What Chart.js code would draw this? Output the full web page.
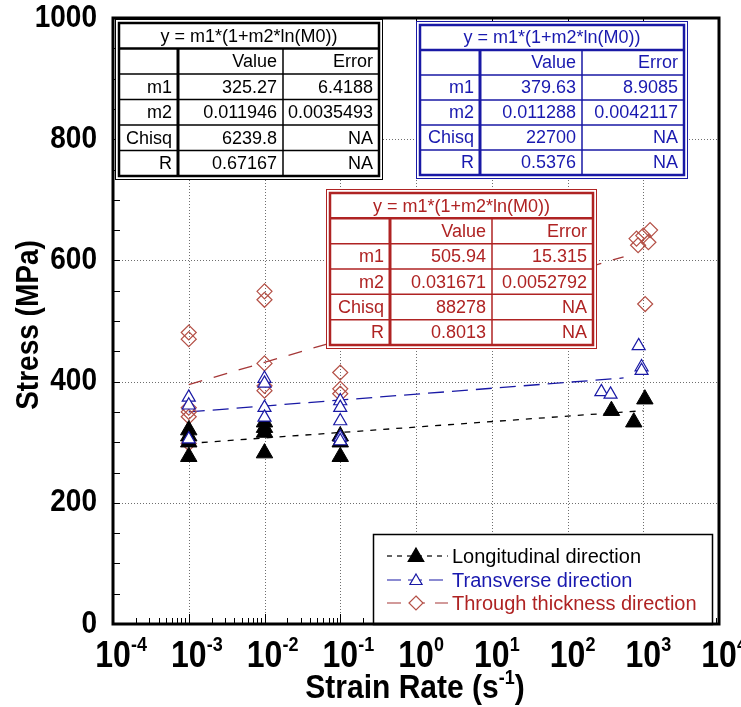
<!DOCTYPE html>
<html>
<head>
<meta charset="utf-8">
<script src="https://cdn.jsdelivr.net/npm/chart.js@4.4.1/dist/chart.umd.min.js"></script>
<style>
  body { margin: 0; background: #fff; }
  #wrap { width: 741px; height: 707px; }
</style>
</head>
<body>
<div id="wrap"><canvas id="chart" width="741" height="707"></canvas></div>
<script>
/* data: strain rate (1/s) vs stress (MPa) */
const rateLong   = [0.001, 0.001, 0.001, 0.001, 0.01, 0.01, 0.01, 0.01, 0.1, 0.1, 0.1, 380, 750, 1050];
const stressLong = [320, 310, 300, 276, 333, 324, 316, 282, 310, 300, 276, 352, 333, 371];

const rateTrans   = [0.001, 0.001, 0.001, 0.01, 0.01, 0.01, 0.01, 0.1, 0.1, 0.1, 0.1, 0.1, 280, 370, 870, 950, 950];
const stressTrans = [374, 361, 305, 405, 397, 357, 341, 368, 357, 335, 308, 302, 383, 379, 459, 424, 418];

const rateThick   = [0.001, 0.001, 0.001, 0.001, 0.001, 0.001, 0.01, 0.01, 0.01, 0.01, 0.01, 0.1, 0.1, 0.1, 815, 855, 1000, 1170, 1230, 1060];
const stressThick = [481, 470, 357, 350, 342, 298, 549, 535, 430, 393, 385, 415, 388, 380, 636, 625, 641, 630, 650, 528];

// fitted lines (end points)
const fitLongX  = [0.001, 1000];
const fitLongY  = [298, 352];
const fitTransX = [0.001, 550];
const fitTransY = [350, 406];
const fitThickX = [0.001, 550];
const fitThickY = [395, 606];

// fit tables
const fitTitle = 'y = m1*(1+m2*ln(M0))';
const fitParams = ['m1', 'm2', 'Chisq', 'R'];
const longValues  = ['325.27', '0.011946', '6239.8', '0.67167'];
const longErrors  = ['6.4188', '0.0035493', 'NA', 'NA'];
const transValues = ['379.63', '0.011288', '22700', '0.5376'];
const transErrors = ['8.9085', '0.0042117', 'NA', 'NA'];
const thickValues = ['505.94', '0.031671', '88278', '0.8013'];
const thickErrors = ['15.315', '0.0052792', 'NA', 'NA'];

const xExponents = [-4, -3, -2, -1, 0, 1, 2, 3, 4];
const yTicks = [0, 200, 400, 600, 800, 1000];
const seriesNames = ['Longitudinal direction', 'Transverse direction', 'Through thickness direction'];

const FONT = "'Liberation Sans', Arial, sans-serif";
const BLUE = 'rgb(25,25,165)';
const BLUE_TXT = 'rgb(25,25,175)';
const RED = 'rgb(175,35,35)';
const RED_PT = 'rgb(180,80,70)';
const RED_LINE = 'rgb(165,55,55)';

function pts(xs, ys) {
  return xs.map((x, i) => ({ x: x, y: ys[i] }));
}

function stretchText(ctx, text, x, y, font, align, sy) {
  ctx.save();
  ctx.translate(x, y);
  ctx.scale(1, sy);
  ctx.font = font;
  ctx.textAlign = align;
  ctx.textBaseline = 'middle';
  ctx.fillText(text, 0, 0);
  ctx.restore();
}

function drawTable(ctx, b, color, txtColor, values, errors) {
  ctx.save();
  ctx.fillStyle = '#fff';
  ctx.fillRect(b.x0, b.y0, b.x1 - b.x0, b.y1 - b.y0);
  ctx.strokeStyle = color;
  ctx.lineWidth = 1;
  ctx.strokeRect(b.x0 + 0.5, b.y0 + 0.5, b.x1 - b.x0 - 1, b.y1 - b.y0 - 1);
  const ix0 = b.x0 + 4, iy0 = b.y0 + 4, ix1 = b.x1 - 4, iy1 = b.y1 - 4;
  ctx.lineWidth = 2.5;
  ctx.strokeRect(ix0, iy0, ix1 - ix0, iy1 - iy0);
  const rh = (iy1 - iy0) / 6;
  for (let r = 1; r < 6; r++) {
    ctx.lineWidth = r === 1 ? 2.5 : 1.5;
    ctx.beginPath();
    ctx.moveTo(ix0, iy0 + r * rh);
    ctx.lineTo(ix1, iy0 + r * rh);
    ctx.stroke();
  }
  ctx.lineWidth = 3;
  ctx.beginPath();
  ctx.moveTo(b.c1, iy0 + rh);
  ctx.lineTo(b.c1, iy1);
  ctx.stroke();
  ctx.lineWidth = 1.5;
  ctx.beginPath();
  ctx.moveTo(b.c2, iy0 + rh);
  ctx.lineTo(b.c2, iy1);
  ctx.stroke();

  ctx.fillStyle = txtColor;
  ctx.font = '18px ' + FONT;
  ctx.textBaseline = 'middle';
  ctx.textAlign = 'center';
  ctx.fillText(fitTitle, (ix0 + ix1) / 2, iy0 + rh / 2 + 1);
  ctx.textAlign = 'right';
  ctx.fillText('Value', b.c2 - 6, iy0 + rh * 1.5 + 1);
  ctx.fillText('Error', ix1 - 6, iy0 + rh * 1.5 + 1);
  for (let i = 0; i < fitParams.length; i++) {
    const y = iy0 + rh * (i + 2.5) + 1;
    ctx.fillText(fitParams[i], b.c1 - 6, y);
    ctx.fillText(values[i], b.c2 - 6, y);
    ctx.fillText(errors[i], ix1 - 6, y);
  }
  ctx.restore();
}

function marker(ctx, style, x, y, r, stroke, fill) {
  ctx.save();
  ctx.beginPath();
  if (style === 'triangle') {
    ctx.moveTo(x, y - r);
    ctx.lineTo(x + r * 0.866, y + r / 2);
    ctx.lineTo(x - r * 0.866, y + r / 2);
  } else {
    ctx.moveTo(x, y - r);
    ctx.lineTo(x + r, y);
    ctx.lineTo(x, y + r);
    ctx.lineTo(x - r, y);
  }
  ctx.closePath();
  if (fill) { ctx.fillStyle = fill; ctx.fill(); }
  ctx.strokeStyle = stroke;
  ctx.lineWidth = 1.2;
  ctx.stroke();
  ctx.restore();
}

const decorPlugin = {
  id: 'decor',
  beforeDatasetsDraw(chart) {
    const ctx = chart.ctx, a = chart.chartArea;
    const xs = chart.scales.x, ys = chart.scales.y;
    ctx.save();
    ctx.strokeStyle = 'rgb(110,110,110)';
    ctx.lineWidth = 1;
    ctx.setLineDash([1, 2]);
    xExponents.slice(1, -1).forEach(e => {
      const px = Math.round(xs.getPixelForValue(Math.pow(10, e))) + 0.5;
      ctx.beginPath(); ctx.moveTo(px, a.top); ctx.lineTo(px, a.bottom); ctx.stroke();
    });
    yTicks.slice(1, -1).forEach(v => {
      const py = Math.round(ys.getPixelForValue(v)) + 0.5;
      ctx.beginPath(); ctx.moveTo(a.left, py); ctx.lineTo(a.right, py); ctx.stroke();
    });
    ctx.restore();
  },
  afterDatasetsDraw(chart) {
    const ctx = chart.ctx, a = chart.chartArea;
    const xs = chart.scales.x, ys = chart.scales.y;

    // ticks inside the frame
    ctx.save();
    ctx.strokeStyle = '#000';
    ctx.lineWidth = 1;
    for (let e = -4; e < 4; e++) {
      for (let k = 2; k <= 9; k++) {
        const px = Math.round(xs.getPixelForValue(k * Math.pow(10, e))) + 0.5;
        ctx.beginPath(); ctx.moveTo(px, a.bottom); ctx.lineTo(px, a.bottom - 6); ctx.stroke();
      }
    }
    xExponents.forEach(e => {
      const px = Math.round(xs.getPixelForValue(Math.pow(10, e))) + 0.5;
      ctx.beginPath(); ctx.moveTo(px, a.bottom); ctx.lineTo(px, a.bottom - 10); ctx.stroke();
      ctx.beginPath(); ctx.moveTo(px, a.top); ctx.lineTo(px, a.top + 7); ctx.stroke();
    });
    for (let v = 50; v < 1000; v += 50) {
      const py = Math.round(ys.getPixelForValue(v)) + 0.5;
      ctx.beginPath(); ctx.moveTo(a.left, py); ctx.lineTo(a.left + 7, py); ctx.stroke();
    }
    ctx.restore();

    // fit tables
    drawTable(ctx, { x0: 115, y0: 19, x1: 383, y1: 180, c1: 178, c2: 283 }, '#000', '#000', longValues, longErrors);
    drawTable(ctx, { x0: 416, y0: 21, x1: 688, y1: 179, c1: 480, c2: 582 }, BLUE, BLUE_TXT, transValues, transErrors);
    drawTable(ctx, { x0: 326, y0: 189, x1: 597, y1: 349, c1: 390, c2: 492 }, RED, RED, thickValues, thickErrors);

    // legend
    ctx.save();
    ctx.fillStyle = '#fff';
    ctx.fillRect(373, 534, 339, a.bottom - 534);
    ctx.strokeStyle = '#000';
    ctx.lineWidth = 1.5;
    ctx.strokeRect(373.5, 534.5, 339, a.bottom - 534);
    const rowsY = [556, 580, 603];
    const dashes = [[5, 5], [14, 7], [14, 10]];
    const lineCols = ['#000', BLUE, RED_LINE];
    const txtCols = ['#000', BLUE_TXT, RED];
    rowsY.forEach((y, i) => {
      ctx.save();
      ctx.strokeStyle = lineCols[i];
      ctx.lineWidth = 1.2;
      ctx.setLineDash(dashes[i]);
      ctx.beginPath(); ctx.moveTo(387, y); ctx.lineTo(448, y); ctx.stroke();
      ctx.restore();
      if (i === 0) marker(ctx, 'triangle', 416, y + 1, 9, '#000', '#000');
      if (i === 1) marker(ctx, 'triangle', 416, y + 1, 7, BLUE, '#fff');
      if (i === 2) marker(ctx, 'diamond', 416, y, 7, RED_PT, '#fff');
      ctx.fillStyle = txtCols[i];
      ctx.font = '20px ' + FONT;
      ctx.textAlign = 'left';
      ctx.textBaseline = 'middle';
      ctx.fillText(seriesNames[i], 452, y + 1);
    });
    ctx.restore();

    // frame
    ctx.save();
    ctx.strokeStyle = '#000';
    ctx.lineWidth = 3;
    ctx.strokeRect(a.left, a.top, a.right - a.left, a.bottom - a.top);
    ctx.restore();

    // axis labels
    ctx.save();
    ctx.fillStyle = '#000';
    yTicks.forEach(v => {
      stretchText(ctx, String(v), 97, ys.getPixelForValue(v), 'bold 28px ' + FONT, 'right', 1.12);
    });
    xExponents.forEach(e => {
      const px = xs.getPixelForValue(Math.pow(10, e));
      stretchText(ctx, '10', px, 657, 'bold 32px ' + FONT, 'center', 1.15);
      stretchText(ctx, String(e), px + 18, 645, 'bold 18px ' + FONT, 'left', 1.15);
    });
    // y title
    ctx.save();
    ctx.translate(30, 325);
    ctx.rotate(-Math.PI / 2);
    ctx.scale(1, 1.1);
    ctx.font = 'bold 28px ' + FONT;
    ctx.textAlign = 'center';
    ctx.textBaseline = 'middle';
    ctx.fillText('Stress (MPa)', 0, 0);
    ctx.restore();
    // x title with superscript
    ctx.font = 'bold 30px ' + FONT;
    const t1 = 'Strain Rate (s', t2 = '-1', t3 = ')';
    const w1 = ctx.measureText(t1).width, w3 = ctx.measureText(t3).width;
    ctx.font = 'bold 18px ' + FONT;
    const w2 = ctx.measureText(t2).width;
    const x0 = 415 - (w1 + w2 + w3) / 2;
    stretchText(ctx, t1, x0, 689, 'bold 30px ' + FONT, 'left', 1.12);
    stretchText(ctx, t2, x0 + w1, 678, 'bold 18px ' + FONT, 'left', 1.12);
    stretchText(ctx, t3, x0 + w1 + w2, 689, 'bold 30px ' + FONT, 'left', 1.12);
    ctx.restore();
  }
};

const ctx = document.getElementById('chart');

const config = {
  type: 'scatter',
  data: {
    datasets: [{
      label: seriesNames[1],
      data: pts(rateTrans, stressTrans),
      pointStyle: 'triangle',
      pointRadius: 7.5,
      borderColor: BLUE,
      backgroundColor: '#fff',
      borderWidth: 1.2
    }, {
      label: seriesNames[0],
      data: pts(rateLong, stressLong),
      pointStyle: 'triangle',
      pointRadius: 9.5,
      borderColor: '#000',
      backgroundColor: '#000',
      borderWidth: 1
    }, {
      label: seriesNames[2],
      data: pts(rateThick, stressThick),
      pointStyle: 'rectRot',
      pointRadius: 7.5,
      borderColor: RED_PT,
      backgroundColor: 'rgba(255,255,255,0)',
      borderWidth: 1.2
    }, {
      label: 'fit long',
      data: pts(fitLongX, fitLongY),
      showLine: true,
      pointRadius: 0,
      borderColor: '#000',
      borderWidth: 1.3,
      borderDash: [6, 7]
    }, {
      label: 'fit trans',
      data: pts(fitTransX, fitTransY),
      showLine: true,
      pointRadius: 0,
      borderColor: BLUE,
      borderWidth: 1.3,
      borderDash: [16, 8]
    }, {
      label: 'fit thick',
      data: pts(fitThickX, fitThickY),
      showLine: true,
      pointRadius: 0,
      borderColor: RED_LINE,
      borderWidth: 1.3,
      borderDash: [14, 12]
    }]
  },
  options: {
    responsive: false,
    animation: false,
    layout: { padding: { left: 113, right: 22, top: 18, bottom: 83 } },
    plugins: { legend: { display: false }, tooltip: { enabled: false } },
    scales: {
      x: { type: 'logarithmic', min: 0.0001, max: 10000, display: false },
      y: { type: 'linear', min: 0, max: 1000, display: false }
    }
  },
  plugins: [decorPlugin]
};

var chart = new Chart(ctx, config);
</script>
</body>
</html>
